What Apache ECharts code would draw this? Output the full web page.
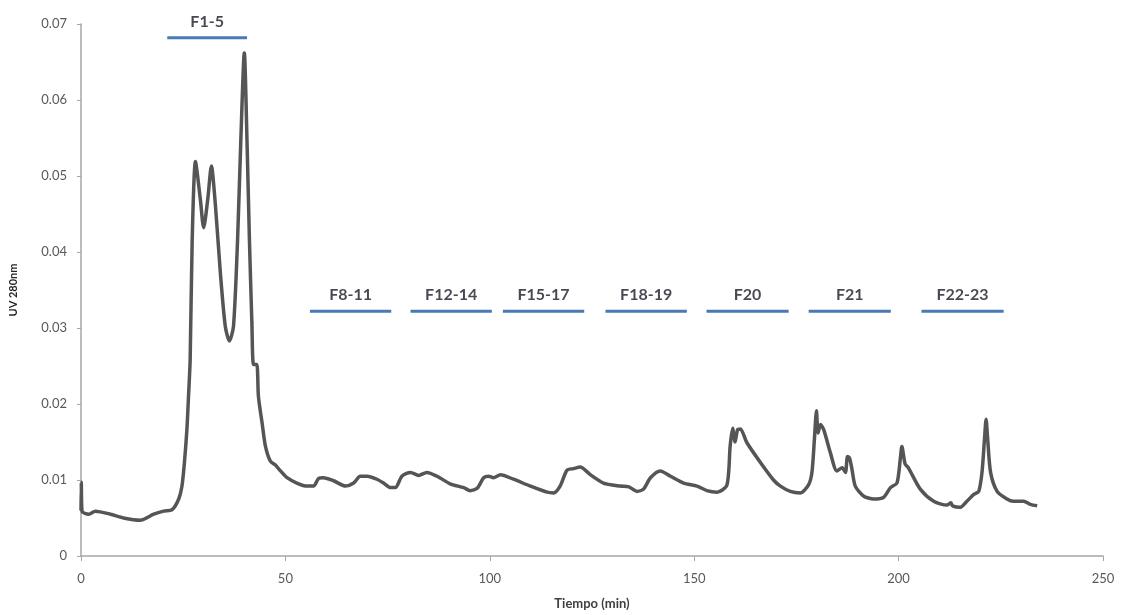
<!DOCTYPE html>
<html>
<head>
<meta charset="utf-8">
<script src="https://cdn.jsdelivr.net/npm/echarts@6/dist/echarts.min.js"></script>
<style>html,body{margin:0;padding:0;background:#fff}#c{width:1121px;height:615px}</style>
</head>
<body>
<div id="c"></div>
<script>
// Chromatogram trace: time (min) and UV absorbance at 280 nm
const timeMin = [0, 0.07, 0.25, 1.9, 3.5, 7.2, 10.4, 14.5, 17.8, 20.2, 22.3, 23.9, 24.7, 25.3, 25.9, 26.3, 26.7, 27.2, 28.0, 29.2, 30.0, 31.0, 31.9, 32.9, 34.1, 35.3, 36.3, 37.3, 38.3, 39.1, 39.95, 40.6, 41.2, 41.8, 42.2, 43.0, 43.2, 43.4, 44.3, 45.1, 46.3, 47.5, 48.8, 50.4, 52.8, 55.3, 56.9, 58.1, 59.3, 61.8, 64.7, 66.7, 68.3, 70.0, 72.4, 74.0, 75.7, 76.9, 78.5, 80.6, 82.6, 84.6, 87.1, 90.3, 93.6, 95.2, 96.9, 98.5, 99.7, 100.9, 102.6, 105.8, 109.9, 114.0, 115.6, 117.2, 118.9, 120.5, 122.1, 124.6, 127.8, 131.9, 134.0, 136.0, 137.6, 139.3, 141.7, 144.2, 147.4, 150.7, 153.1, 155.6, 158.0, 158.8, 159.4, 160.0, 160.6, 161.3, 162.9, 166.2, 169.4, 171.1, 173.5, 176.0, 178.0, 178.8, 179.4, 179.9, 180.3, 180.9, 181.7, 183.3, 184.9, 186.2, 187.0, 187.5, 188.0, 188.6, 189.4, 191.4, 193.9, 196.3, 198.0, 199.6, 200.4, 200.8, 201.6, 202.4, 205.3, 208.6, 211.8, 212.8, 213.2, 215.1, 216.7, 218.4, 219.6, 220.4, 221.0, 221.4, 221.8, 222.5, 224.1, 226.5, 228.1, 230.6, 232.2, 233.9];
const uv280 = [0.0060, 0.0097, 0.0059, 0.0055, 0.0059, 0.0055, 0.0050, 0.0047, 0.0055, 0.0059, 0.0061, 0.0075, 0.0092, 0.0123, 0.0166, 0.0210, 0.0258, 0.0416, 0.0519, 0.0469, 0.0432, 0.0469, 0.0513, 0.0460, 0.0372, 0.0302, 0.0283, 0.0302, 0.0416, 0.0548, 0.0662, 0.0548, 0.0416, 0.0307, 0.0252, 0.0252, 0.0241, 0.0210, 0.0175, 0.0145, 0.0125, 0.0120, 0.0112, 0.0103, 0.0096, 0.0092, 0.0092, 0.0102, 0.0103, 0.0099, 0.0092, 0.0096, 0.0105, 0.0105, 0.0101, 0.0096, 0.0090, 0.0090, 0.0105, 0.0110, 0.0106, 0.0110, 0.0105, 0.0095, 0.0090, 0.0086, 0.0089, 0.0103, 0.0105, 0.0103, 0.0107, 0.0101, 0.0092, 0.0084, 0.0083, 0.0092, 0.0113, 0.0115, 0.0117, 0.0107, 0.0096, 0.0092, 0.0091, 0.0085, 0.0088, 0.0103, 0.0112, 0.0105, 0.0096, 0.0092, 0.0086, 0.0084, 0.0093, 0.0145, 0.0168, 0.0150, 0.0166, 0.0167, 0.0149, 0.0123, 0.0100, 0.0092, 0.0085, 0.0083, 0.0094, 0.0110, 0.0153, 0.0191, 0.0162, 0.0173, 0.0166, 0.0136, 0.0112, 0.0116, 0.0110, 0.0131, 0.0129, 0.0114, 0.0092, 0.0079, 0.0075, 0.0077, 0.0090, 0.0096, 0.0127, 0.0144, 0.0121, 0.0116, 0.0088, 0.0072, 0.0067, 0.0070, 0.0066, 0.0064, 0.0072, 0.0081, 0.0085, 0.0110, 0.0153, 0.0180, 0.0153, 0.0110, 0.0085, 0.0075, 0.0072, 0.0072, 0.0068, 0.0066];

// Collected fractions: name, start and end time (min), bar level (UV)
const fractionNames = ['F1-5', 'F8-11', 'F12-14', 'F15-17', 'F18-19', 'F20', 'F21', 'F22-23'];
const fractionStart = [21.1, 56.0, 80.6, 103.2, 128.3, 153.0, 178.0, 205.6];
const fractionEnd   = [40.6, 75.9, 100.5, 123.1, 148.2, 173.1, 198.1, 225.7];
const fractionLevel = [0.0682, 0.0322, 0.0322, 0.0322, 0.0322, 0.0322, 0.0322, 0.0322];

const xTicks = [0, 50, 100, 150, 200, 250];
const yTicks = [0, 0.01, 0.02, 0.03, 0.04, 0.05, 0.06, 0.07];

const trace = timeMin.map((t, i) => [t, uv280[i]]);
const barData = [];
fractionNames.forEach((n, i) => {
  barData.push([fractionStart[i], fractionLevel[i]]);
  barData.push([fractionEnd[i], fractionLevel[i]]);
  barData.push([null, null]);
});
const labelData = fractionNames.map((n, i) => ({
  name: n,
  value: [(fractionStart[i] + fractionEnd[i]) / 2, fractionLevel[i]]
}));

const font = 'Lato, "Open Sans", sans-serif';
const chart = echarts.init(document.getElementById('c'), null, {renderer: 'canvas'});
chart.setOption({
  animation: false,
  backgroundColor: '#ffffff',
  grid: {left: 81, right: 18, top: 24, bottom: 58, containLabel: false},
  xAxis: {
    type: 'value', min: xTicks[0], max: xTicks[xTicks.length - 1], interval: 50,
    name: 'Tiempo (min)', nameLocation: 'middle', nameGap: 41,
    nameTextStyle: {fontFamily: font, fontWeight: 'bold', fontSize: 13, color: '#404040'},
    axisLine: {lineStyle: {color: '#a6a6a6', width: 1.5}},
    axisTick: {show: true, length: 5, lineStyle: {color: '#a6a6a6'}},
    axisLabel: {fontFamily: font, fontSize: 13, color: '#595959', margin: 16},
    splitLine: {show: false}
  },
  yAxis: {
    type: 'value', min: yTicks[0], max: yTicks[yTicks.length - 1], interval: 0.01,
    name: 'UV 280nm', nameLocation: 'middle', nameGap: 62, nameRotate: 90,
    nameTextStyle: {fontFamily: font, fontWeight: 'bold', fontSize: 11, color: '#262626'},
    axisLine: {show: true, lineStyle: {color: '#a6a6a6', width: 1.5}},
    axisTick: {show: true, length: 4, lineStyle: {color: '#a6a6a6'}},
    axisLabel: {fontFamily: font, fontSize: 13, color: '#595959', margin: 14},
    splitLine: {show: false}
  },
  series: [
    {
      type: 'line', data: trace, showSymbol: false, symbol: 'none', smooth: 0.25,
      lineStyle: {color: '#555555', width: 3.5}, z: 3
    },
    {
      type: 'line', data: barData, showSymbol: false, symbol: 'none', connectNulls: false,
      lineStyle: {color: '#4a7ab4', width: 3}, z: 2
    },
    {
      type: 'scatter', data: labelData, symbolSize: 0, z: 4,
      label: {
        show: true, position: 'top', distance: 8, formatter: p => p.name,
        fontFamily: font, fontWeight: 'bold', fontSize: 16, color: '#1a1a28'
      }
    }
  ]
});
</script>
</body>
</html>
